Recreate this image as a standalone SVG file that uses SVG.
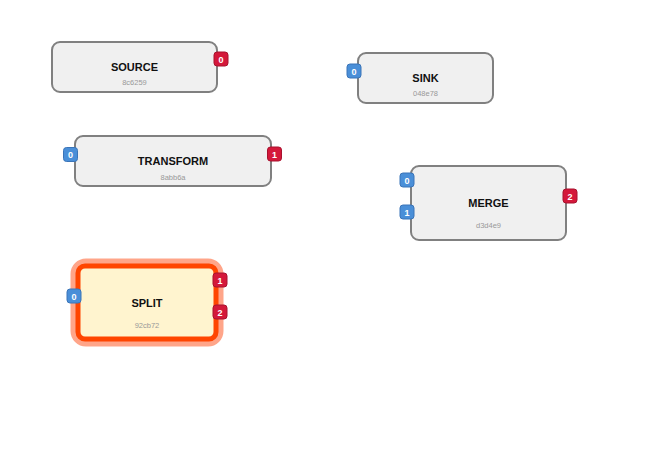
<svg xmlns="http://www.w3.org/2000/svg" width="672" height="467" viewBox="0 0 672 467">
<style>
.node{fill:#f0f0f0;stroke:#808080;stroke-width:2}
.title{font-family:"Liberation Sans",Arial,sans-serif;font-size:11px;font-weight:bold;fill:#111;text-anchor:middle}
.nid{font-family:"Liberation Sans",Arial,sans-serif;font-size:7.5px;fill:#999;text-anchor:middle}
.pin{fill:#4a8fd8;stroke:#3a74b8;stroke-width:1}
.pout{fill:#d4183a;stroke:#a8122e;stroke-width:1}
.pl{font-family:"Liberation Sans",Arial,sans-serif;font-size:9px;font-weight:bold;fill:#fff;text-anchor:middle}
</style>
<rect width="672" height="467" fill="#fff"/>
<g id="connectors"></g>
<g id="source">
<rect class="node" x="52" y="42" width="165" height="50" rx="8"/>
<text class="title" x="134.5" y="71">SOURCE</text>
<text class="nid" x="134.5" y="85">8c6259</text>
<rect class="pout" x="214" y="52" width="14" height="14" rx="3"/>
<text class="pl" x="221" y="62.5">0</text>
</g>
<g id="sink">
<rect class="node" x="358" y="53" width="135" height="50" rx="8"/>
<text class="title" x="425.5" y="82">SINK</text>
<text class="nid" x="425.5" y="95.5">048e78</text>
<rect class="pin" x="347" y="64" width="14" height="14" rx="3"/>
<text class="pl" x="354" y="74.5">0</text>
</g>
<g id="transform">
<rect class="node" x="75" y="136" width="196" height="50" rx="8"/>
<text class="title" x="173" y="165">TRANSFORM</text>
<text class="nid" x="173" y="179.5">8abb6a</text>
<rect class="pin" x="63.5" y="147.5" width="14" height="14" rx="3"/>
<text class="pl" x="70.5" y="158">0</text>
<rect class="pout" x="267.5" y="147" width="14" height="14" rx="3"/>
<text class="pl" x="274.5" y="157.5">1</text>
</g>
<g id="merge">
<rect class="node" x="411" y="166" width="155" height="74" rx="8"/>
<text class="title" x="488.5" y="207">MERGE</text>
<text class="nid" x="488.5" y="228">d3d4e9</text>
<rect class="pin" x="400" y="173" width="14" height="14" rx="3"/>
<text class="pl" x="407" y="183.5">0</text>
<rect class="pin" x="400" y="205" width="14" height="14" rx="3"/>
<text class="pl" x="407" y="215.5">1</text>
<rect class="pout" x="563" y="189" width="14" height="14" rx="3"/>
<text class="pl" x="570" y="199.5">2</text>
</g>
<g id="split">
<rect x="78" y="266" width="138" height="73" rx="8" fill="none" stroke="#ffa589" stroke-width="15"/>
<rect x="78" y="266" width="138" height="73" rx="7" fill="#fff4cf" stroke="#ff4500" stroke-width="5"/>
<text class="title" x="147" y="307">SPLIT</text>
<text class="nid" x="147" y="328">92cb72</text>
<rect class="pin" x="67" y="289" width="14" height="14" rx="3"/>
<text class="pl" x="74" y="299.5">0</text>
<rect class="pout" x="213" y="273" width="14" height="14" rx="3"/>
<text class="pl" x="220" y="283.5">1</text>
<rect class="pout" x="213" y="305" width="14" height="14" rx="3"/>
<text class="pl" x="220" y="315.5">2</text>
</g>
</svg>
